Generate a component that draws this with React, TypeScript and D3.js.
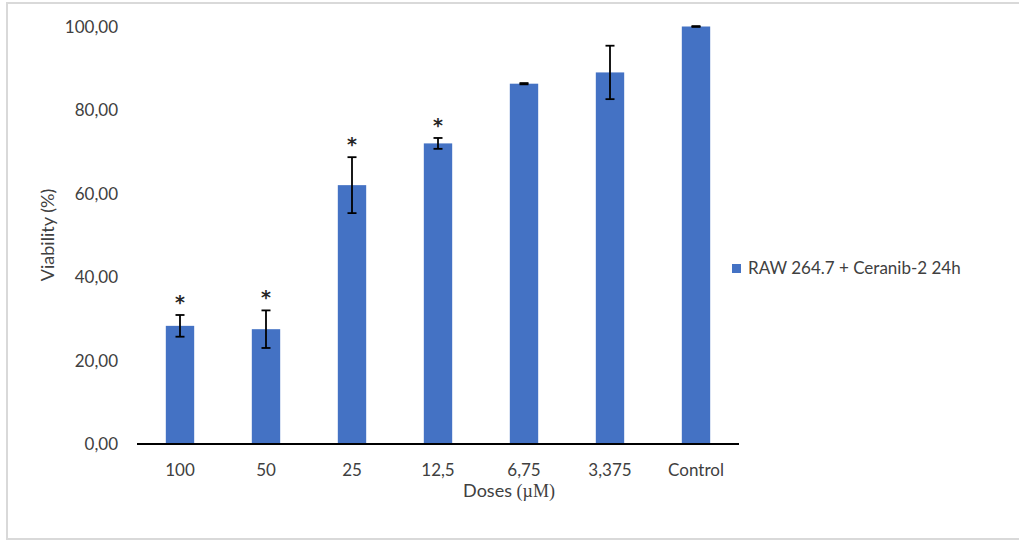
import { useEffect, useRef } from 'react';
import * as d3 from 'd3';

const doses = ['100', '50', '25', '12,5', '6,75', '3,375', 'Control'];
const viability = [28.3, 27.5, 62.0, 72.0, 86.3, 89.0, 100.0];
const stdDev = [2.6, 4.5, 6.7, 1.3, 0.15, 6.4, 0.1];
const significant = [true, true, true, true, false, false, false];
const yTicks = [0, 20, 40, 60, 80, 100];
const seriesName = 'RAW 264.7 + Ceranib-2 24h';

const FONT = 'Lato, "Open Sans", sans-serif';

const App = () => {
  const svgRef = useRef<SVGSVGElement>(null);

  useEffect(() => {
    if (!svgRef.current) return;
    const width = 1019;
    const height = 540;
    const margin = { top: 26.5, left: 137, bottom: 444 };
    const plotRight = 739;

    const svg = d3.select(svgRef.current);
    svg.selectAll('*').remove();
    svg.attr('width', width).attr('height', height);

    // outer frame
    svg.append('rect')
      .attr('x', 7)
      .attr('y', 3)
      .attr('width', 1030)
      .attr('height', 536)
      .attr('fill', '#fff')
      .attr('stroke', '#d9d9d9')
      .attr('stroke-width', 2);

    const data = doses.map((d, i) => ({
      dose: d,
      value: viability[i],
      sd: stdDev[i],
      sig: significant[i],
    }));

    const x = d3.scaleBand()
      .domain(doses)
      .range([margin.left, plotRight])
      .paddingInner(0.67)
      .paddingOuter(0.335);

    const y = d3.scaleLinear()
      .domain([0, 100])
      .range([margin.bottom, margin.top]);

    // y tick labels
    svg.append('g')
      .selectAll('text')
      .data(yTicks)
      .enter()
      .append('text')
      .attr('x', 118)
      .attr('y', d => y(d))
      .attr('dy', '0.36em')
      .attr('text-anchor', 'end')
      .style('font-family', FONT)
      .style('font-size', '17px')
      .style('fill', '#404040')
      .text(d => d3.format('.2f')(d).replace('.', ','));

    // bars
    svg.append('g')
      .selectAll('rect')
      .data(data)
      .enter()
      .append('rect')
      .attr('x', d => x(d.dose)!)
      .attr('y', d => y(d.value))
      .attr('width', x.bandwidth())
      .attr('height', d => y(0) - y(d.value))
      .attr('fill', '#4472c4');

    // x axis line
    svg.append('line')
      .attr('x1', margin.left)
      .attr('x2', plotRight)
      .attr('y1', y(0))
      .attr('y2', y(0))
      .attr('stroke', '#000')
      .attr('stroke-width', 1.8);

    // error bars
    const err = svg.append('g')
      .attr('stroke', '#000')
      .attr('stroke-width', 1.8);
    data.forEach(d => {
      const cx = x(d.dose)! + x.bandwidth() / 2;
      const top = y(d.value + d.sd);
      const bot = y(d.value - d.sd);
      err.append('line').attr('x1', cx).attr('x2', cx).attr('y1', top).attr('y2', bot);
      err.append('line').attr('x1', cx - 4.5).attr('x2', cx + 4.5).attr('y1', top).attr('y2', top);
      err.append('line').attr('x1', cx - 4.5).attr('x2', cx + 4.5).attr('y1', bot).attr('y2', bot);
    });

    // significance asterisks
    svg.append('g')
      .selectAll('text')
      .data(data.filter(d => d.sig))
      .enter()
      .append('text')
      .attr('x', d => x(d.dose)! + x.bandwidth() / 2)
      .attr('y', d => y(d.value + d.sd) - 6)
      .attr('text-anchor', 'middle')
      .style('font-family', '"DejaVu Sans", sans-serif')
      .style('font-size', '19px')
      .style('font-weight', 'bold')
      .style('fill', '#262626')
      .text('*');

    // x tick labels
    svg.append('g')
      .selectAll('text')
      .data(doses)
      .enter()
      .append('text')
      .attr('x', d => x(d)! + x.bandwidth() / 2)
      .attr('y', 476)
      .attr('text-anchor', 'middle')
      .style('font-family', FONT)
      .style('font-size', '17px')
      .style('fill', '#404040')
      .text(d => d);

    // x axis title
    const xt = svg.append('text')
      .attr('x', 509)
      .attr('y', 497)
      .attr('text-anchor', 'middle')
      .style('font-family', FONT)
      .style('font-size', '18px')
      .style('fill', '#404040');
    xt.append('tspan').text('Doses ');
    xt.append('tspan').style('font-family', '"Liberation Serif", serif').text('(µM)');

    // y axis title
    svg.append('text')
      .attr('transform', 'translate(54,235) rotate(-90)')
      .attr('text-anchor', 'middle')
      .style('font-family', FONT)
      .style('font-size', '18px')
      .style('fill', '#404040')
      .text('Viability (%)');

    // legend
    svg.append('rect')
      .attr('x', 732)
      .attr('y', 264)
      .attr('width', 9)
      .attr('height', 9)
      .attr('fill', '#4472c4');
    svg.append('text')
      .attr('x', 748)
      .attr('y', 274)
      .style('font-family', FONT)
      .style('font-size', '17px')
      .style('fill', '#404040')
      .text(seriesName);
  }, []);

  return (
    <div style={{ position: 'absolute', left: 0, top: 0 }}>
      <svg ref={svgRef} style={{ display: 'block' }}></svg>
    </div>
  );
};

export default App;
